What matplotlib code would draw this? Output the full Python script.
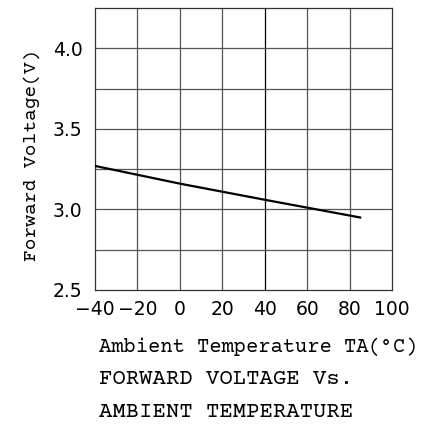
import matplotlib
matplotlib.use("Agg")
import matplotlib.pyplot as plt

# forward voltage vs ambient temperature
temps = [-40, 0, 40, 85]
volts = [3.27, 3.16, 3.06, 2.95]

x_ticks = [-40, -20, 0, 20, 40, 60, 80, 100]
y_ticks = [2.5, 3.0, 3.5, 4.0]
y_grid = [2.75, 3.25, 3.75]

MONO = ["Courier Prime", "DejaVu Sans"]

fig = plt.figure(figsize=(4.25, 4.26), dpi=100)
ax = fig.add_axes([95 / 425, 1 - 290 / 426, 297 / 425, 282 / 426])

ax.set_xlim(-40, 100)
ax.set_ylim(2.5, 4.25)
ax.set_xticks(x_ticks)
ax.set_yticks(y_ticks)
ax.set_xticklabels([f"{t}".replace("-", "\u2212") for t in x_ticks])
ax.set_yticklabels([f"{v:.1f}" for v in y_ticks])
ax.tick_params(length=0, labelsize=13.5, colors="black")
ax.tick_params(axis="x", pad=7)
ax.tick_params(axis="y", pad=9)

# grid
for t in x_ticks[1:-1]:
    ax.axvline(t, color="black" if t == 40 else "#555555", lw=0.9, zorder=1)
for v in y_ticks[1:] + y_grid:
    ax.axhline(v, color="#555555", lw=0.9, zorder=1)

for sp in ax.spines.values():
    sp.set_color("#333333")
    sp.set_linewidth(0.9)

ax.plot(temps, volts, color="black", lw=1.6, zorder=3)

fig.text(32 / 425, 1 - 155 / 426, "Forward Voltage(V)", family=MONO, fontsize=14,
         rotation=90, ha="center", va="center")

fig.text(99 / 425, 1 - 352 / 426, "Ambient Temperature TA(\u00b0C)", family=MONO,
         fontsize=14.8, va="baseline")
fig.text(99 / 425, 1 - 384 / 426, "FORWARD VOLTAGE Vs.", family=MONO,
         fontsize=16, va="baseline")
fig.text(99 / 425, 1 - 417 / 426, "AMBIENT TEMPERATURE", family=MONO,
         fontsize=16, va="baseline")

fig.savefig("out.png", dpi=100)
